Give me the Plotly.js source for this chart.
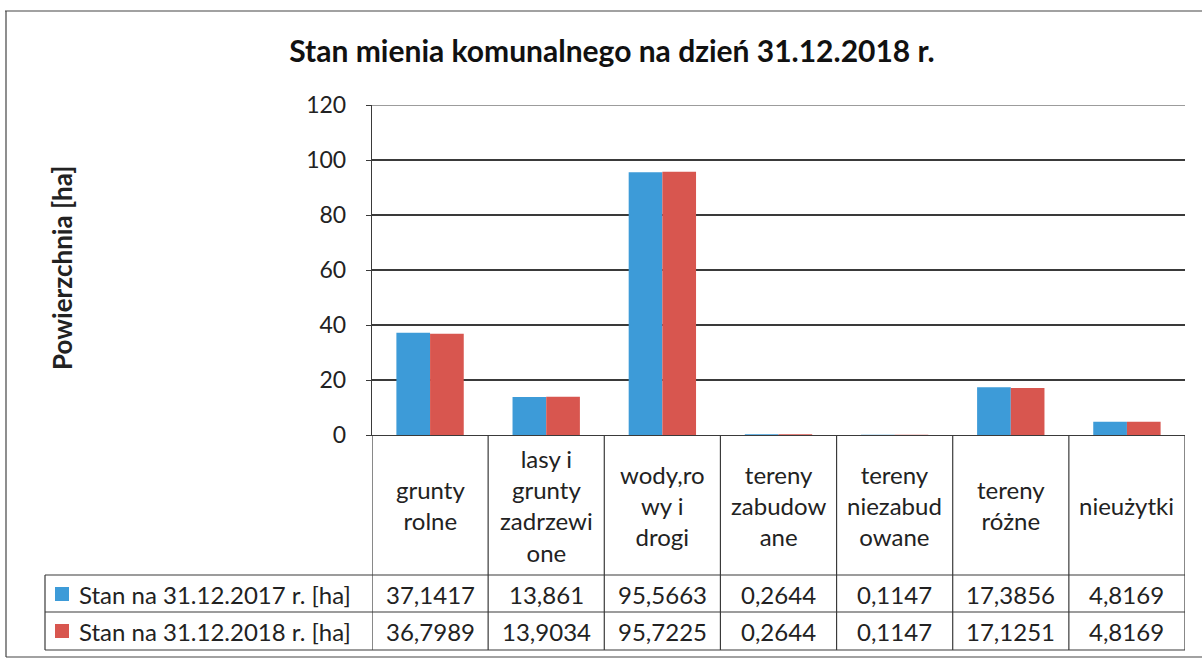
<!DOCTYPE html>
<html>
<head>
<meta charset="utf-8">
<script src="https://cdn.plot.ly/plotly-3.0.1.min.js"></script>
<style>html,body{margin:0;padding:0;background:#fff;}#chart{width:1202px;height:665px;}</style>
</head>
<body>
<div id="chart"></div>
<script>
// ---- data ----
const categories = ["grunty rolne", "lasy i grunty zadrzewione", "wody, rowy i drogi", "tereny zabudowane", "tereny niezabudowane", "tereny różne", "nieużytki"];
const categoryTickLabels = ["grunty<br>rolne", "lasy i<br>grunty<br>zadrzewi<br>one", "wody,ro<br>wy i<br>drogi", "tereny<br>zabudow<br>ane", "tereny<br>niezabud<br>owane", "tereny<br>różne", "nieużytki"];
const seriesNames = ["Stan na 31.12.2017 r. [ha]", "Stan na 31.12.2018 r. [ha]"];
const values2017 = [37.1417, 13.861, 95.5663, 0.2644, 0.1147, 17.3856, 4.8169];
const values2018 = [36.7989, 13.9034, 95.7225, 0.2644, 0.1147, 17.1251, 4.8169];
const seriesColors = ["#3d9bd8", "#d8564f"];
const yTicks = [0, 20, 40, 60, 80, 100, 120];
const chartTitle = "Stan mienia komunalnego na dzień 31.12.2018 r.";
const yTitle = "Powierzchnia [ha]";

// ---- layout geometry (paper fractions) ----
const W = 1202, H = 665;
const px = v => v / W;
const py = v => 1 - v / H;
const plotL = px(372), plotR = px(1185);
const plotB = py(435), plotT = py(105);
const rowCatB = py(575), row1B = py(612), row2B = py(650);
const legL = px(45);
const lineColor = "#3a3a3a";
const FONT = "Lato, 'Open Sans', sans-serif";
const TXT = 24;

const allSeries = [values2017, values2018];
const traces = allSeries.map((vals, i) => ({
  type: "bar",
  name: seriesNames[i],
  x: categories,
  y: vals,
  marker: {color: seriesColors[i], line: {width: 0}},
  hoverinfo: "x+y+name"
}));

const fmt = v => String(v).replace(".", ",");
const shapes = [];
const annotations = [];

// outer frame
shapes.push({type: "line", xref: "paper", yref: "paper", x0: px(5), x1: 1.0, y0: py(11), y1: py(11), line: {color: "#444", width: 1.2}});
shapes.push({type: "line", xref: "paper", yref: "paper", x0: px(6), x1: px(6), y0: py(11), y1: py(657), line: {color: "#444", width: 1.2}});
shapes.push({type: "line", xref: "paper", yref: "paper", x0: px(6), x1: 1.0, y0: py(657), y1: py(657), line: {color: "#444", width: 1.2}});

// top gridline at the range max
shapes.push({type: "line", xref: "paper", yref: "y", x0: plotL, x1: plotR, y0: yTicks[yTicks.length - 1], y1: yTicks[yTicks.length - 1], line: {color: lineColor, width: 1.2}});

// table vertical dividers at category boundaries
for (let i = 0; i <= categories.length; i++) {
  shapes.push({type: "line", xref: "x", yref: "paper", x0: i - 0.5, x1: i - 0.5, y0: row2B, y1: plotB, line: {color: lineColor, width: 1.2}});
}
// table horizontal lines
[rowCatB, row1B, row2B].forEach(y => {
  shapes.push({type: "line", xref: "paper", yref: "paper", x0: legL, x1: plotR, y0: y, y1: y, line: {color: lineColor, width: 1.2}});
});
// legend column left edge
shapes.push({type: "line", xref: "paper", yref: "paper", x0: legL, x1: legL, y0: row2B, y1: rowCatB, line: {color: lineColor, width: 1.2}});

// category labels
categories.forEach((c, i) => {
  annotations.push({xref: "x", yref: "paper", x: c, y: py(505), text: categoryTickLabels[i], showarrow: false,
    xanchor: "center", yanchor: "middle", align: "center", font: {family: FONT, size: TXT, color: "#222"}});
});
// values rows + legend keys
const rowCenters = [py(594), py(631)];
allSeries.forEach((vals, s) => {
  vals.forEach((v, i) => {
    annotations.push({xref: "x", yref: "paper", x: categories[i], y: rowCenters[s], text: fmt(v), showarrow: false,
      xanchor: "center", yanchor: "middle", font: {family: FONT, size: TXT, color: "#222"}});
  });
  annotations.push({xref: "paper", yref: "paper", x: px(77), y: rowCenters[s], text: seriesNames[s], showarrow: false,
    xanchor: "left", yanchor: "middle", font: {family: FONT, size: TXT, color: "#222"}});
  const cy = H * (1 - rowCenters[s]);
  shapes.push({type: "rect", xref: "paper", yref: "paper", x0: px(55), x1: px(69), y0: py(cy - 7), y1: py(cy + 7),
    fillcolor: seriesColors[s], line: {width: 0}});
});

// y axis title
annotations.push({xref: "paper", yref: "paper", x: px(62), y: py(268), text: "<b>" + yTitle + "</b>", textangle: -90,
  showarrow: false, xanchor: "center", yanchor: "middle", font: {family: FONT, size: 26, color: "#222"}});

const layout = {
  width: W, height: H,
  margin: {l: 0, r: 0, t: 0, b: 0},
  paper_bgcolor: "#fff", plot_bgcolor: "#fff",
  showlegend: false,
  barmode: "group", bargap: 0.42, bargroupgap: 0,
  title: {text: "<b>" + chartTitle + "</b>", x: px(612), xanchor: "center", y: py(51), yanchor: "middle", yref: "container",
    font: {family: FONT, size: 30, color: "#111"}},
  xaxis: {domain: [plotL, plotR], type: "category", range: [-0.5, categories.length - 0.5], showticklabels: false,
    showgrid: false, zeroline: false, showline: true, linecolor: lineColor, linewidth: 1.2, ticks: "", fixedrange: true},
  yaxis: {domain: [plotB, plotT], range: [0, 120], tickvals: yTicks, ticktext: yTicks.map(String), showgrid: true,
    gridcolor: lineColor, gridwidth: 1.2, zeroline: false, showline: true, linecolor: lineColor, linewidth: 1.2,
    ticks: "outside", ticklen: 5, tickcolor: lineColor, ticklabelstandoff: 15,
    tickfont: {family: FONT, size: 23, color: "#222"}, fixedrange: true},
  shapes: shapes,
  annotations: annotations,
  font: {family: FONT}
};

Plotly.newPlot("chart", traces, layout, {displayModeBar: false, staticPlot: true});
</script>
</body>
</html>
